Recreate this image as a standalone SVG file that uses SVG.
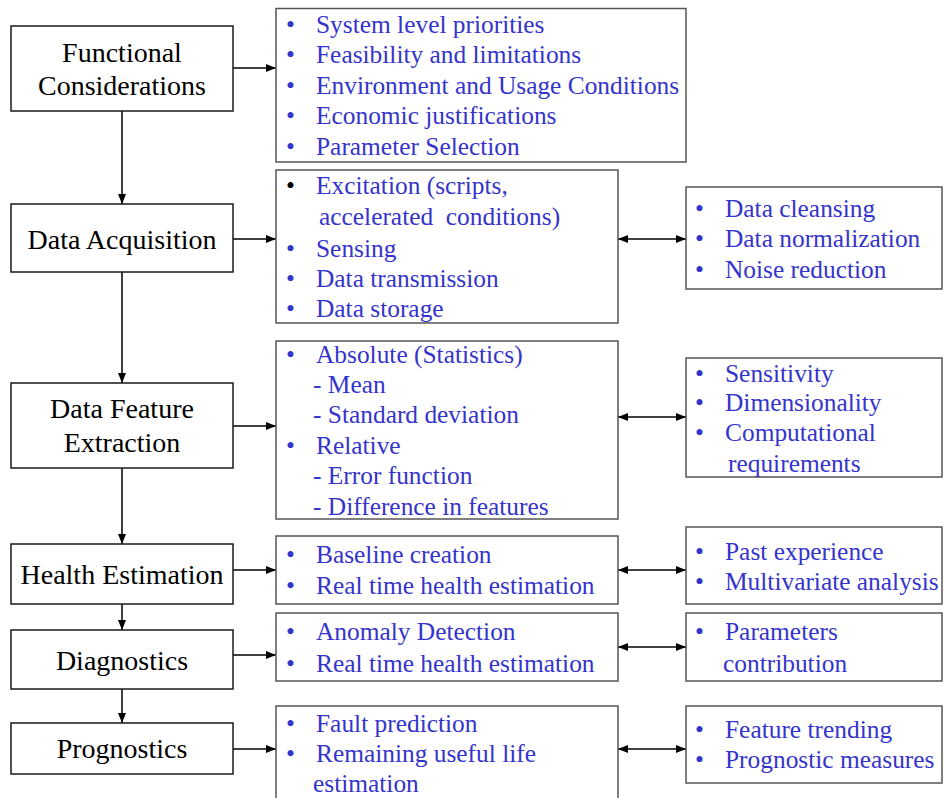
<svg xmlns="http://www.w3.org/2000/svg" width="944" height="798" viewBox="0 0 944 798">
  <style>
    .stage { fill: #ffffff; stroke: #1a1a1a; stroke-width: 1.5; }
    .detail { fill: #ffffff; stroke: #555555; stroke-width: 1.5; }
    text { font-family: 'Liberation Serif', Tinos, 'Times New Roman', Times, 'DejaVu Serif', serif; }
    .label { font-size: 28px; fill: #000000; text-anchor: middle; }
    .item { font-size: 25.4px; fill: #3434cc; }
    .link { stroke: #000000; stroke-width: 1.5; fill: none; }
  </style>
  <defs>
    <marker id="head" markerUnits="userSpaceOnUse" markerWidth="10" markerHeight="8" refX="10" refY="4" orient="auto">
      <path d="M0,0 L10,4 L0,8 z" fill="#000000"/>
    </marker>
    <marker id="tail" markerUnits="userSpaceOnUse" markerWidth="10" markerHeight="8" refX="0" refY="4" orient="auto">
      <path d="M10,0 L0,4 L10,8 z" fill="#000000"/>
    </marker>
  </defs>

  <rect width="944" height="798" fill="#ffffff"/>

  <!-- connectors -->
  <g id="connectors">
    <!-- stage to stage -->
    <line class="link" x1="122" y1="111" x2="122" y2="204" marker-end="url(#head)"/>
    <line class="link" x1="122" y1="272" x2="122" y2="383" marker-end="url(#head)"/>
    <line class="link" x1="122" y1="468" x2="122" y2="544" marker-end="url(#head)"/>
    <line class="link" x1="122" y1="604" x2="122" y2="630" marker-end="url(#head)"/>
    <line class="link" x1="122" y1="689" x2="122" y2="723" marker-end="url(#head)"/>
    <!-- stage to activities -->
    <line class="link" x1="233" y1="68" x2="276" y2="68" marker-end="url(#head)"/>
    <line class="link" x1="233" y1="239" x2="276" y2="239" marker-end="url(#head)"/>
    <line class="link" x1="233" y1="426" x2="276" y2="426" marker-end="url(#head)"/>
    <line class="link" x1="233" y1="570" x2="276" y2="570" marker-end="url(#head)"/>
    <line class="link" x1="233" y1="655" x2="276" y2="655" marker-end="url(#head)"/>
    <line class="link" x1="233" y1="749" x2="276" y2="749" marker-end="url(#head)"/>
    <!-- activities to techniques -->
    <line class="link" x1="618" y1="239" x2="686" y2="239" marker-start="url(#tail)" marker-end="url(#head)"/>
    <line class="link" x1="618" y1="417" x2="686" y2="417" marker-start="url(#tail)" marker-end="url(#head)"/>
    <line class="link" x1="618" y1="570" x2="686" y2="570" marker-start="url(#tail)" marker-end="url(#head)"/>
    <line class="link" x1="618" y1="647" x2="686" y2="647" marker-start="url(#tail)" marker-end="url(#head)"/>
    <line class="link" x1="618" y1="749" x2="686" y2="749" marker-start="url(#tail)" marker-end="url(#head)"/>
  </g>

  <!-- stages -->
  <g id="functional-considerations">
    <rect class="stage" x="11" y="26" width="222" height="85"/>
    <text class="label" x="122" y="62">Functional</text>
    <text class="label" x="122" y="95">Considerations</text>
  </g>
  <g id="data-acquisition">
    <rect class="stage" x="11" y="204" width="222" height="68"/>
    <text class="label" x="122" y="249">Data Acquisition</text>
  </g>
  <g id="data-feature-extraction">
    <rect class="stage" x="11" y="383" width="222" height="85"/>
    <text class="label" x="122" y="418">Data Feature</text>
    <text class="label" x="122" y="452">Extraction</text>
  </g>
  <g id="health-estimation">
    <rect class="stage" x="11" y="544" width="222" height="60"/>
    <text class="label" x="122" y="584">Health Estimation</text>
  </g>
  <g id="diagnostics">
    <rect class="stage" x="11" y="630" width="222" height="59"/>
    <text class="label" x="122" y="670">Diagnostics</text>
  </g>
  <g id="prognostics">
    <rect class="stage" x="11" y="723" width="222" height="51"/>
    <text class="label" x="122" y="758">Prognostics</text>
  </g>

  <!-- activity lists -->
  <g id="functional-items">
    <rect class="detail" x="276" y="8.5" width="410" height="153.5"/>
    <g class="item">
      <text x="286" y="33">•</text><text x="316" y="33">System level priorities</text>
      <text x="286" y="63">•</text><text x="316" y="63">Feasibility and limitations</text>
      <text x="286" y="94">•</text><text x="316" y="94">Environment and Usage Conditions</text>
      <text x="286" y="124">•</text><text x="316" y="124">Economic justifications</text>
      <text x="286" y="155">•</text><text x="316" y="155">Parameter Selection</text>
    </g>
  </g>
  <g id="acquisition-items">
    <rect class="detail" x="276" y="170" width="342" height="153"/>
    <g class="item">
      <text x="286" y="194" fill="#000000">•</text><text x="316" y="194">Excitation (scripts,</text>
      <text x="319" y="225" xml:space="preserve">accelerated  conditions)</text>
      <text x="286" y="257">•</text><text x="316" y="257">Sensing</text>
      <text x="286" y="287">•</text><text x="316" y="287">Data transmission</text>
      <text x="286" y="317">•</text><text x="316" y="317">Data storage</text>
    </g>
  </g>
  <g id="feature-items">
    <rect class="detail" x="276" y="341" width="342" height="178"/>
    <g class="item">
      <text x="286" y="363">•</text><text x="316" y="363">Absolute (Statistics)</text>
      <text x="313" y="393">- Mean</text>
      <text x="313" y="423">- Standard deviation</text>
      <text x="286" y="454">•</text><text x="316" y="454">Relative</text>
      <text x="313" y="484">- Error function</text>
      <text x="313" y="515">- Difference in features</text>
    </g>
  </g>
  <g id="health-items">
    <rect class="detail" x="276" y="536" width="342" height="68"/>
    <g class="item">
      <text x="286" y="563">•</text><text x="316" y="563">Baseline creation</text>
      <text x="286" y="594">•</text><text x="316" y="594">Real time health estimation</text>
    </g>
  </g>
  <g id="diagnostics-items">
    <rect class="detail" x="276" y="613" width="342" height="68"/>
    <g class="item">
      <text x="286" y="640">•</text><text x="316" y="640">Anomaly Detection</text>
      <text x="286" y="672">•</text><text x="316" y="672">Real time health estimation</text>
    </g>
  </g>
  <g id="prognostics-items">
    <rect class="detail" x="276" y="706" width="342" height="110"/>
    <g class="item">
      <text x="286" y="732">•</text><text x="316" y="732">Fault prediction</text>
      <text x="286" y="762">•</text><text x="316" y="762">Remaining useful life</text>
      <text x="313" y="792">estimation</text>
    </g>
  </g>

  <!-- technique lists -->
  <g id="acquisition-techniques">
    <rect class="detail" x="686" y="187" width="256" height="102"/>
    <g class="item">
      <text x="695" y="217">•</text><text x="725" y="217">Data cleansing</text>
      <text x="695" y="247">•</text><text x="725" y="247">Data normalization</text>
      <text x="695" y="278">•</text><text x="725" y="278">Noise reduction</text>
    </g>
  </g>
  <g id="feature-techniques">
    <rect class="detail" x="686" y="358" width="256" height="119"/>
    <g class="item">
      <text x="695" y="382">•</text><text x="725" y="382">Sensitivity</text>
      <text x="695" y="411">•</text><text x="725" y="411">Dimensionality</text>
      <text x="695" y="441">•</text><text x="725" y="441">Computational</text>
      <text x="728" y="472">requirements</text>
    </g>
  </g>
  <g id="health-techniques">
    <rect class="detail" x="686" y="527" width="256" height="77"/>
    <g class="item">
      <text x="695" y="560">•</text><text x="725" y="560">Past experience</text>
      <text x="695" y="590">•</text><text x="725" y="590">Multivariate analysis</text>
    </g>
  </g>
  <g id="diagnostics-techniques">
    <rect class="detail" x="686" y="613" width="256" height="68"/>
    <g class="item">
      <text x="695" y="640">•</text><text x="725" y="640">Parameters</text>
      <text x="723" y="672">contribution</text>
    </g>
  </g>
  <g id="prognostics-techniques">
    <rect class="detail" x="686" y="706" width="256" height="77"/>
    <g class="item">
      <text x="695" y="738">•</text><text x="725" y="738">Feature trending</text>
      <text x="695" y="768">•</text><text x="725" y="768">Prognostic measures</text>
    </g>
  </g>
</svg>
